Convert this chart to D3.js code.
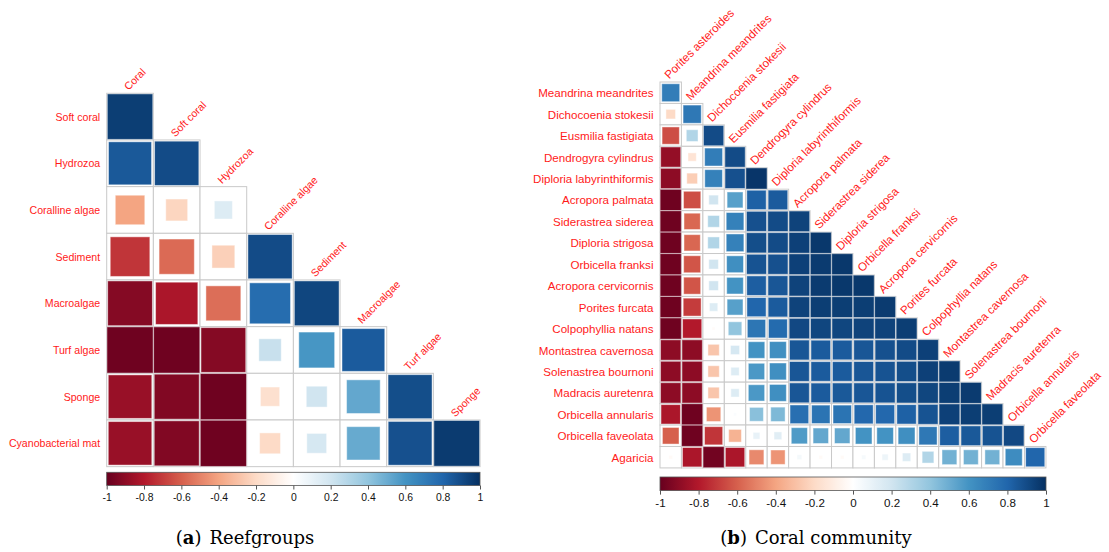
<!DOCTYPE html>
<html>
<head>
<meta charset="utf-8">
<script src="https://cdn.jsdelivr.net/npm/d3@7"></script>
<style>
  html, body { margin: 0; padding: 0; background: #fff; }
  svg { display: block; }
</style>
</head>
<body>
<svg id="chart" width="1109" height="552"></svg>
<script>
// ---- Panel (a): reef groups ----
const reefLabels = ["Coral", "Soft coral", "Hydrozoa", "Coralline algae", "Sediment",
  "Macroalgae", "Turf algae", "Sponge", "Cyanobacterial mat"];
// lower triangle, row i holds correlations with the first i+1 variables
const reefCorr = [
  [0.95],
  [0.85, 0.90],
  [-0.40, -0.22, 0.15],
  [-0.72, -0.57, -0.24, 0.90],
  [-0.92, -0.82, -0.56, 0.77, 0.92],
  [-0.98, -0.98, -0.92, 0.23, 0.59, 0.84],
  [-0.87, -0.93, -0.98, -0.17, 0.20, 0.52, 0.89],
  [-0.87, -0.93, -0.98, -0.20, 0.18, 0.51, 0.88, 0.96]
];

// ---- Panel (b): coral community ----
const coralLabels = ["Porites asteroides", "Meandrina meandrites", "Dichocoenia stokesii",
  "Eusmilia fastigiata", "Dendrogyra cylindrus", "Diploria labyrinthiformis",
  "Acropora palmata", "Siderastrea siderea", "Diploria strigosa", "Orbicella franksi",
  "Acropora cervicornis", "Porites furcata", "Colpophyllia natans", "Montastrea cavernosa",
  "Solenastrea bournoni", "Madracis auretenra", "Orbicella annularis",
  "Orbicella faveolata", "Agaricia"];
const coralCorr = [
  [0.70],
  [-0.20, 0.72],
  [-0.65, 0.30, 0.90],
  [-0.88, -0.15, 0.70, 0.90],
  [-0.90, -0.25, 0.68, 0.88, 0.98],
  [-0.98, -0.65, 0.20, 0.55, 0.82, 0.84],
  [-0.98, -0.58, 0.30, 0.68, 0.88, 0.90, 0.93],
  [-0.98, -0.58, 0.30, 0.68, 0.89, 0.90, 0.94, 0.97],
  [-0.98, -0.63, 0.20, 0.62, 0.87, 0.88, 0.94, 0.96, 0.97],
  [-0.98, -0.63, 0.20, 0.60, 0.83, 0.86, 0.93, 0.96, 0.97, 0.97],
  [-0.98, -0.70, 0.15, 0.55, 0.80, 0.84, 0.93, 0.95, 0.95, 0.95, 0.96],
  [-0.98, -0.80, -0.02, 0.40, 0.73, 0.78, 0.91, 0.92, 0.92, 0.93, 0.93, 0.95],
  [-0.90, -0.90, -0.28, 0.18, 0.60, 0.62, 0.86, 0.84, 0.84, 0.86, 0.88, 0.90, 0.94],
  [-0.90, -0.90, -0.28, 0.15, 0.58, 0.62, 0.86, 0.84, 0.84, 0.86, 0.87, 0.89, 0.94, 0.96],
  [-0.90, -0.90, -0.28, 0.15, 0.58, 0.62, 0.86, 0.84, 0.85, 0.86, 0.87, 0.89, 0.92, 0.95, 0.96],
  [-0.82, -0.98, -0.45, 0.02, 0.42, 0.45, 0.76, 0.74, 0.74, 0.79, 0.79, 0.82, 0.87, 0.94, 0.95, 0.95],
  [-0.60, -0.98, -0.72, -0.35, 0.10, 0.13, 0.57, 0.52, 0.52, 0.60, 0.60, 0.62, 0.72, 0.83, 0.85, 0.87, 0.91],
  [-0.03, -0.82, -0.97, -0.82, -0.48, -0.45, 0.05, -0.03, -0.03, 0.04, 0.08, 0.15, 0.30, 0.48, 0.48, 0.48, 0.63, 0.80]
];

const colorbarTicks = [-1, -0.8, -0.6, -0.4, -0.2, 0, 0.2, 0.4, 0.6, 0.8, 1];
const captionA = { tag: "a", text: "Reefgroups" };
const captionB = { tag: "b", text: "Coral community" };

// diverging red-white-blue ramp
const palette = ["#67001F", "#B2182B", "#D6604D", "#F4A582", "#FDDBC7", "#FFFFFF",
  "#D1E5F0", "#92C5DE", "#4393C3", "#2166AC", "#053061"];
const color = d3.scaleLinear()
  .domain(d3.range(palette.length).map(i => -1 + i * 2 / (palette.length - 1)))
  .range(palette)
  .interpolate(d3.interpolateRgb);

const svg = d3.select("#chart");
const defs = svg.append("defs");
const grad = defs.append("linearGradient").attr("id", "ramp").attr("x1", "0%").attr("x2", "100%");
d3.range(0, 101).forEach(i => {
  grad.append("stop").attr("offset", i + "%").attr("stop-color", color(-1 + i / 50));
});

function drawPanel(cfg) {
  const { labels, corr, x0, y0, cell, fontSize, bar, caption } = cfg;
  const n = corr.length;
  const rows = labels.slice(1);
  const cols = labels.slice(0, n);
  const x = d3.scaleBand().domain(cols).range([x0, x0 + n * cell]);
  const y = d3.scaleBand().domain(rows).range([y0, y0 + n * cell]);
  const size = d3.scaleSqrt().domain([0, 1]).range([0, x.bandwidth()]);

  const cells = [];
  corr.forEach((row, i) => row.forEach((v, j) => cells.push({ r: rows[i], c: cols[j], v })));

  const g = svg.append("g");
  // background grid of the lower triangle
  g.append("g").selectAll("rect").data(cells).join("rect")
    .attr("x", d => x(d.c)).attr("y", d => y(d.r))
    .attr("width", x.bandwidth()).attr("height", y.bandwidth())
    .attr("fill", "#fff").attr("stroke", "#c9c9c9").attr("stroke-width", 1);
  // squares sized by sqrt(|r|)
  g.append("g").selectAll("rect").data(cells).join("rect")
    .attr("x", d => x(d.c) + (x.bandwidth() - size(Math.abs(d.v))) / 2)
    .attr("y", d => y(d.r) + (y.bandwidth() - size(Math.abs(d.v))) / 2)
    .attr("width", d => size(Math.abs(d.v)))
    .attr("height", d => size(Math.abs(d.v)))
    .attr("fill", d => color(d.v))
    .attr("stroke", "rgba(255,255,255,0.45)").attr("stroke-width", 1);

  // row labels
  g.append("g").selectAll("text").data(rows).join("text")
    .attr("x", x0 - 6.5).attr("y", d => y(d) + y.bandwidth() / 2)
    .attr("text-anchor", "end").attr("dominant-baseline", "central")
    .attr("font-family", "Liberation Sans, Arial, sans-serif")
    .attr("font-size", fontSize).attr("fill", "#ff1a1a")
    .text(d => d);
  // column labels on the diagonal, rotated 45 degrees
  g.append("g").selectAll("text").data(cols).join("text")
    .attr("transform", (d, j) =>
      `translate(${x(d) + x.bandwidth() / 2 - 1.5},${y(rows[j]) - 2.5}) rotate(-45)`)
    .attr("font-family", "Liberation Sans, Arial, sans-serif")
    .attr("font-size", fontSize).attr("fill", "#ff1a1a")
    .text(d => d);

  // colour bar
  const bx = d3.scaleLinear().domain([-1, 1]).range([bar.x0, bar.x1]);
  g.append("rect")
    .attr("x", bar.x0).attr("y", bar.y).attr("width", bar.x1 - bar.x0).attr("height", bar.h)
    .attr("fill", "url(#ramp)").attr("stroke", "#555").attr("stroke-width", 0.8);
  const axis = g.append("g").attr("transform", `translate(0,${bar.y + bar.h})`)
    .call(d3.axisBottom(bx).tickValues(colorbarTicks).tickSize(4).tickPadding(4)
      .tickFormat(d => String(d)));
  axis.select(".domain").remove();
  axis.selectAll("line").attr("stroke", "#555");
  axis.selectAll("text").attr("font-family", "Liberation Sans, Arial, sans-serif")
    .attr("font-size", bar.fontSize).attr("fill", "#111");

  // caption
  const cap = g.append("text")
    .attr("x", caption.cx).attr("y", 544)
    .attr("text-anchor", "middle")
    .attr("font-family", "DejaVu Serif, serif").attr("font-size", 18).attr("fill", "#000");
  cap.append("tspan").text("(");
  cap.append("tspan").attr("font-weight", "bold").text(caption.tag);
  cap.append("tspan").text(")");
  cap.append("tspan").attr("dx", 8).text(caption.text);
}

drawPanel({
  labels: reefLabels, corr: reefCorr, x0: 106.7, y0: 93.3, cell: 46.67, fontSize: 10.6,
  bar: { x0: 106.7, x1: 480, y: 472.3, h: 13.2, fontSize: 10.4 },
  caption: { ...captionA, cx: 245 }
});
drawPanel({
  labels: coralLabels, corr: coralCorr, x0: 660, y0: 82, cell: 21.44, fontSize: 11.6,
  bar: { x0: 660, x1: 1046, y: 477, h: 13.6, fontSize: 11.6 },
  caption: { ...captionB, cx: 816 }
});
</script>
</body>
</html>
